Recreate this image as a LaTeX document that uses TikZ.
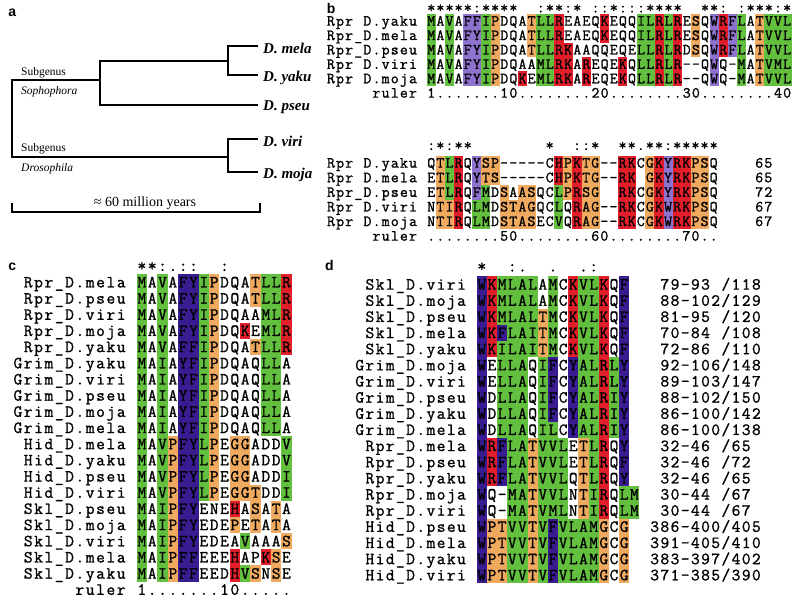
\documentclass[tikz,border=0pt]{standalone}
\usepackage{fontspec}
\newfontfamily\treefont{Liberation Serif}
\newfontfamily\panelfont{Liberation Sans}
\newfontfamily\seqfont{Latin Modern Mono}[FakeBold=1.2]
\usetikzlibrary{positioning}

\definecolor{alngreen}{RGB}{98,192,62}
\definecolor{alnorange}{RGB}{240,170,96}
\definecolor{alnred}{RGB}{226,30,42}
\definecolor{alnlilac}{RGB}{142,114,206}
\definecolor{alnindigo}{RGB}{58,28,146}

\tikzset{
  aln-g/.style={fill=alngreen},
  aln-o/.style={fill=alnorange},
  aln-r/.style={fill=alnred},
  aln-p/.style={fill=alnlilac},
  aln-v/.style={fill=alnindigo},
  alnfont/.style={font=\seqfont},
  alnchar/.style={alnfont, anchor=base, inner sep=0pt},
  panel/.style={font=\panelfont\bfseries\fontsize{14}{14}\selectfont, anchor=base west, inner sep=0pt},
  branch/.style={line width=1.6pt},
  leaf/.style={font=\treefont\bfseries\itshape\fontsize{15}{15}\selectfont, anchor=west, inner sep=0pt, yshift=-2.5pt},
  group/.style={font=\treefont\fontsize{11.5}{12}\selectfont, anchor=base west, inner sep=0pt},
}

% alignment rows: one cell per residue, colour codes g o r p v, '.' = no fill, '|' = no text
\ExplSyntaxOn
\tl_new:N \l_aln_x_tl
\tl_new:N \l_aln_y_tl
\tl_new:N \l_aln_w_tl
\tl_new:N \l_aln_h_tl
\tl_new:N \l_aln_s_tl
\int_new:N \l_aln_i_int
\int_new:N \l_aln_n_int
\NewDocumentCommand \alnsetup { m m m m m }
  {
    \tl_set:Nn \l_aln_x_tl {#1}
    \tl_set:Nn \l_aln_y_tl {#2}
    \tl_set:Nn \l_aln_w_tl {#3}
    \tl_set:Nn \l_aln_h_tl {#4}
    \tl_set:Nn \l_aln_s_tl {#5}
    \tikzset { alnfont/.style = { font = \seqfont \fontsize {#5} {#5} \selectfont } }
  }
\cs_new_protected:Npn \aln_cells:nn #1#2
  {
    \int_zero:N \l_aln_i_int
    \str_map_inline:nn {#2}
      {
        \str_if_eq:nnF {##1} {.}
          {
            \fill [aln-##1] ({\l_aln_x_tl + \int_use:N \l_aln_i_int * \l_aln_w_tl}, {\l_aln_y_tl + (#1 - 0.5) * \l_aln_h_tl}) rectangle ++ (\l_aln_w_tl, \l_aln_h_tl);
          }
        \int_incr:N \l_aln_i_int
      }
  }
\cs_new_protected:Npn \aln_text:nnn #1#2#3
  {
    \int_zero:N \l_aln_i_int
    \str_map_inline:nn {#3}
      {
        \str_if_eq:nnF {##1} {|}
          { \node [alnchar] at ({#1 + (\int_use:N \l_aln_i_int + 0.5) * \l_aln_w_tl}, {#2}) {##1}; }
        \int_incr:N \l_aln_i_int
      }
  }
\NewDocumentCommand \alnrow { m m m m }
  {
    \aln_cells:nn {#1} {#4}
    \int_set:Nn \l_aln_n_int { \str_count:n {#2} }
    \aln_text:nnn { \l_aln_x_tl - (\int_use:N \l_aln_n_int + 1) * \l_aln_w_tl } { \l_aln_y_tl + #1 * \l_aln_h_tl + 0.3 * \l_aln_s_tl } {#2}
    \aln_text:nnn { \l_aln_x_tl } { \l_aln_y_tl + #1 * \l_aln_h_tl + 0.3 * \l_aln_s_tl } {#3}
  }
\NewDocumentCommand \alnnum { m m m }
  { \aln_text:nnn { \l_aln_x_tl + #2 * \l_aln_w_tl } { \l_aln_y_tl + #1 * \l_aln_h_tl + 0.3 * \l_aln_s_tl } {#3} }
\NewDocumentCommand \alncons { m m }
  { \aln_text:nnn { \l_aln_x_tl } {#1} {#2} }
\ExplSyntaxOff

\begin{document}
\begin{tikzpicture}[x=1pt, y=-1pt]
\useasboundingbox (0,0) rectangle (800,600);

% a: species tree
\node[panel] (label-a) at (8.3,16.7) {a};
\coordinate (mela-tip) at (258,46);
\coordinate (yaku-tip) at (258,75);
\coordinate (pseu-tip) at (258,105);
\coordinate (viri-tip) at (258,139);
\coordinate (moja-tip) at (258,172);
\coordinate (melyak) at (228,61);
\coordinate (soph) at (100,80);
\coordinate (dros) at (228,157);
\coordinate (base) at (12,157);
\node[leaf, right=5pt of mela-tip] (mela) {D. mela};
\node[leaf, right=5pt of yaku-tip] (yaku) {D. yaku};
\node[leaf, right=5pt of pseu-tip] (pseu) {D. pseu};
\node[leaf, right=5pt of viri-tip] (viri) {D. viri};
\node[leaf, right=5pt of moja-tip] (moja) {D. moja};
\draw[branch] (mela-tip) -| (melyak) |- (yaku-tip);
\draw[branch] (melyak) -| (soph) |- (pseu-tip);
\draw[branch] (soph) -| (base) -- (dros);
\draw[branch] (viri-tip) -| (dros) |- (moja-tip);
\node[group] (soph-a) at (21,75) {Subgenus};
\node[group, font=\treefont\itshape\fontsize{11.5}{12}\selectfont] (soph-b) at (21,94.3) {Sophophora};
\node[group] (dros-a) at (21,151.7) {Subgenus};
\node[group, font=\treefont\itshape\fontsize{11.5}{12}\selectfont] (dros-b) at (21,171.7) {Drosophila};
\coordinate (bar-l) at (12,212);
\coordinate (bar-r) at (260,212);
\draw[line width=1.2pt] ([yshift=9pt]bar-l) -- (bar-l) -- (bar-r) -- ([yshift=9pt]bar-r);
\node[font=\treefont\fontsize{14}{14}\selectfont, anchor=base, inner sep=0pt] (myears) at (145,206.5) {≈ 60 million years};

% b: Rpr, residues 1-40
\node[panel] (label-b) at (326.7,13) {b};
\alnsetup{426.7}{21}{9.125}{14.4}{15.5}
\alncons{12.5}{*****:****||:**:*|::*:::****||**:|:***:*}
\alnrow{0}{Rpr D.yaku}{MAVAFFIPDQATLLREAEQKEQQILRLRESQWRFLATVVL}{g.g.ppgo...oggr....r...ggrgr.o.prpg.oggg}
\alnrow{1}{Rpr_D.mela}{MAVAFYIPDQATLLREAEQKEQQILRLRESQWRFLATVVL}{g.g.ppgo...oggr....r...ggrgr.o.prpg.oggg}
\alnrow{2}{Rpr_D.pseu}{MAVAFYIPDQATLLRKAAQQEQELLRLRDSQWRFLATVVL}{g.g.ppgo...oggrr.......ggrgr.o.prpg.oggg}
\alnrow{3}{Rpr D.viri}{MAVAFYIPDQAAMLRKAREQEKQLLRLR--QWQ-MATVML}{g.g.ppgo....ggrr.r...r.ggrgr...p..g.oggg}
\alnrow{4}{Rpr D.moja}{MAVAFYIPDQKEMLRKAREQEKQLLRLR--QWQ-MATVVL}{g.g.ppgo..r.ggrr.r...r.ggrgr...p..g.oggg}
\alnrow{5}{ruler}{1.......10........20........30........40}{}

% b: Rpr, residues 41 to the end
\alnsetup{426.7}{163}{9.11}{14.6}{15.5}
\alncons{150}{:*:**||||||||*||::*||**.**:*****}
\alnrow{0}{Rpr D.yaku}{QTLRQYSP-----CHPKTG--RKCGKYRKPSQ}{.ogr.poo......roroo..rr.orprroo.}
\alnrow{1}{Rpr D.mela}{ETLRQYTS-----CHPKTG--RK|GKYRKPSQ}{.ogr.poo......roroo..rr.orprroo.}
\alnrow{2}{Rpr_D.pseu}{ETLRQFMDSAASQCLPRSG||RKCGKYRKPSQ}{.ogr.pg.o.oo..goroo..rr.orprroo.}
\alnrow{3}{Rpr D.viri}{NTIRQLMDSTAGQCLQRAG--RKCGKWRKPSQ}{.oor.gg.oooo..g.roo..rr.orprroo.}
\alnrow{4}{Rpr D.moja}{NTIRQLMDSTASECVQRAG--RKCGKWRKPSQ}{.oor.gg.oooo..g.roo..rr.orprroo.}
\alnrow{5}{ruler}{........50........60........70..}{}
\alnnum{0}{36}{65}
\alnnum{1}{36}{65}
\alnnum{2}{36}{72}
\alnnum{3}{36}{67}
\alnnum{4}{36}{67}

% c: N-termini
\node[panel] (label-c) at (8.3,270) {c};
\alnsetup{136.7}{282.3}{10.33}{16.18}{17}
\alncons{271}{**:.::||:}
\alnrow{0}{Rpr_D.mela}{MAVAFYIPDQATLLR}{g.g.vvgo...oggr}
\alnrow{1}{Rpr_D.pseu}{MAVAFYIPDQATLLR}{g.g.vvgo...oggr}
\alnrow{2}{Rpr_D.viri}{MAVAFYIPDQAAMLR}{g.g.vvgo....ggr}
\alnrow{3}{Rpr_D.moja}{MAVAFYIPDQKEMLR}{g.g.vvgo..r.ggr}
\alnrow{4}{Rpr_D.yaku}{MAVAFFIPDQATLLR}{g.g.vvgo...oggr}
\alnrow{5}{Grim_D.yaku}{MAIAYFIPDQAQLLA}{g.g.vvgo....gg.}
\alnrow{6}{Grim_D.viri}{MAIAYFIPDQAQLLA}{g.g.vvgo....gg.}
\alnrow{7}{Grim_D.pseu}{MAIAYFIPDQAQLLA}{g.g.vvgo....gg.}
\alnrow{8}{Grim_D.moja}{MAIAYFIPDQAQLLA}{g.g.vvgo....gg.}
\alnrow{9}{Grim_D.mela}{MAIAYFIPDQAQLLA}{g.g.vvgo....gg.}
\alnrow{10}{Hid_D.mela}{MAVPFYLPEGGADDV}{g.govvgo.oo...g}
\alnrow{11}{Hid_D.yaku}{MAVPFYLPEGGADDV}{g.govvgo.oo...g}
\alnrow{12}{Hid_D.pseu}{MAVPFYLPEGGADDI}{g.govvgo.oo...g}
\alnrow{13}{Hid_D.viri}{MAVPFYLPEGGTDDI}{g.govvgo.ooo..g}
\alnrow{14}{Skl_D.pseu}{MAIPFYENEHASATA}{g.govv...r.o.o.}
\alnrow{15}{Skl_D.moja}{MAIPFYEDEPETATA}{g.govv...o.o.o.}
\alnrow{16}{Skl_D.viri}{MAIPFYEDEAVAAAS}{g.govv....g...o}
\alnrow{17}{Skl_D.mela}{MAIPFFEEEHAPKSE}{g.govv...r..ro.}
\alnrow{18}{Skl_D.yaku}{MAIPFFEEDHVSNSE}{g.govv...rgo.o.}
\alnrow{19}{ruler}{1.......10.....}{}

% d: GH3 region
\node[panel] (label-d) at (325,270.5) {d};
\alnsetup{476.7}{284.5}{10.17}{16.15}{17}
\alncons{271.5}{*||:.||.||.:}
\alnrow{0}{Skl_D.viri}{WKMLALAMCKVLKQF}{vrgggg.g.rggr.v}
\alnrow{1}{Skl_D.moja}{WKMLALAMCKVLKQF}{vrgggg.g.rggr.v}
\alnrow{2}{Skl_D.pseu}{WKMLALTMCKVLKQF}{vrggggog.rggr.v}
\alnrow{3}{Skl_D.mela}{WKFLAITMCKVLKQF}{vrvgggog.rggr.v}
\alnrow{4}{Skl_D.yaku}{WKILAITMCKVLKQF}{vrggggog.rggr.v}
\alnrow{5}{Grim_D.moja}{WELLAQIFCYALRLY}{v.ggg.gv.vggrgv}
\alnrow{6}{Grim_D.viri}{WELLAQIFCYALRLY}{v.ggg.gv.vggrgv}
\alnrow{7}{Grim_D.pseu}{WDLLAQIFCYALRIY}{v.ggg.gv.vggrgv}
\alnrow{8}{Grim_D.yaku}{WDLLAQIFCYALRIY}{v.ggg.gv.vggrgv}
\alnrow{9}{Grim_D.mela}{WDLLAQILCYALRIY}{v.ggg.gg.vggrgv}
\alnrow{10}{Rpr_D.mela}{WRFLATVVLETLRQY}{vrvggoggg.ogr.v}
\alnrow{11}{Rpr_D.pseu}{WRFLATVVLETLRQF}{vrvggoggg.ogr.v}
\alnrow{12}{Rpr_D.yaku}{WRFLATVVLQTLRQY}{vrvggoggg.ogr.v}
\alnrow{13}{Rpr_D.moja}{WQ-MATVVLNTIRQLM}{v..ggoggg.ogr.gg}
\alnrow{14}{Rpr_D.viri}{WQ-MATVMLNTIRQLM}{v..ggoggg.ogr.gg}
\alnrow{15}{Hid_D.pseu}{WPTVVTVFVLAMGCG}{vooggogvggggo.o}
\alnrow{16}{Hid_D.mela}{WPTVVTVFVLAMGCG}{vooggogvggggo.o}
\alnrow{17}{Hid_D.yaku}{WPTVVTVFVLAMGCG}{vooggogvggggo.o}
\alnrow{18}{Hid_D.viri}{WPTVVTVFVLAMGCG}{vooggogvggggo.o}
\alnnum{0}{17}{|79-93 /118}
\alnnum{1}{17}{|88-102/129}
\alnnum{2}{17}{|81-95 /120}
\alnnum{3}{17}{|70-84 /108}
\alnnum{4}{17}{|72-86 /110}
\alnnum{5}{17}{|92-106/148}
\alnnum{6}{17}{|89-103/147}
\alnnum{7}{17}{|88-102/150}
\alnnum{8}{17}{|86-100/142}
\alnnum{9}{17}{|86-100/138}
\alnnum{10}{17}{|32-46 /65}
\alnnum{11}{17}{|32-46 /72}
\alnnum{12}{17}{|32-46 /65}
\alnnum{13}{17}{|30-44 /67}
\alnnum{14}{17}{|30-44 /67}
\alnnum{15}{17}{386-400/405}
\alnnum{16}{17}{391-405/410}
\alnnum{17}{17}{383-397/402}
\alnnum{18}{17}{371-385/390}
\end{tikzpicture}
\end{document}
